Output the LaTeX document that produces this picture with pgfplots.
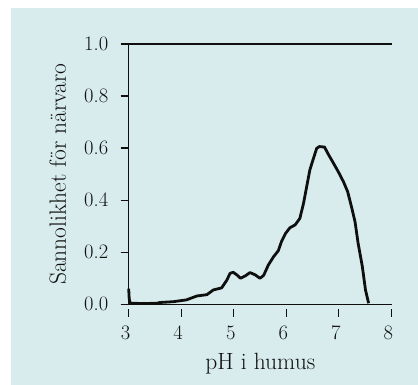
\documentclass[border=0pt]{standalone}
\usepackage{fontspec}
\usepackage{pgfplots}
\pgfplotsset{compat=1.18}
\definecolor{bg}{RGB}{216,236,237}
\definecolor{ink}{RGB}{15,15,15}
\begin{document}
\begin{tikzpicture}
\fill[white] (0pt,0pt) rectangle (418pt,385pt);
\fill[bg] (11pt,0pt) rectangle (418pt,377pt);
\useasboundingbox (0pt,0pt) rectangle (418pt,385pt);
\begin{axis}[
  at={(128.7pt,80.7pt)}, anchor=south west,
  scale only axis, width=263.3pt, height=260.3pt,
  xmin=3, xmax=8.015, ymin=0, ymax=1,
  axis x line*=bottom, axis y line*=left,
  axis line style={line width=1.3pt, color=ink, -},
  xtick={3,4,5,6,7,8}, ytick={0,0.2,0.4,0.6,0.8,1.0},
  /pgf/number format/assume math mode=true,
  tick align=outside, major tick length=8pt,
  tick style={line width=1.3pt, color=ink},
  xtick style={yshift=-4.5pt},
  yticklabel style={/pgf/number format/fixed, /pgf/number format/fixed zerofill, /pgf/number format/precision=1, xshift=-9pt, font=\fontsize{20.5}{22}\selectfont, text=ink},
  xticklabel style={xshift=-3pt, yshift=-10pt, font=\fontsize{20.5}{22}\selectfont, text=ink},
  label style={font=\fontsize{23.5}{26}\selectfont, color=ink},
  xlabel={pH i humus},
  ylabel={Sannolikhet för närvaro},
  xlabel style={at={(axis description cs:0.5,0)}, anchor=north, yshift=-45pt},
  ylabel style={at={(axis description cs:0,0.5)}, anchor=south, xshift=0pt, yshift=59pt},
  clip=false,
]
\draw[line width=1.3pt, color=ink] (rel axis cs:0,1) -- (rel axis cs:1,1);
\addplot[line width=2.8pt, color=ink, line join=round] coordinates {
(3.00,0.06) (3.01,0.02) (3.03,0.004) (3.3,0.003) (3.53,0.004) (3.6,0.007)
(3.85,0.010) (4.10,0.017) (4.30,0.032) (4.49,0.037) (4.61,0.055) (4.77,0.063)
(4.87,0.093) (4.93,0.119) (4.99,0.123) (5.06,0.113) (5.13,0.100) (5.22,0.109)
(5.31,0.122) (5.41,0.113) (5.50,0.100) (5.57,0.111) (5.66,0.151) (5.76,0.183)
(5.85,0.206) (5.91,0.241) (5.99,0.273) (6.07,0.294) (6.17,0.305) (6.26,0.330)
(6.33,0.388) (6.39,0.452) (6.45,0.516) (6.52,0.561) (6.58,0.599) (6.63,0.606)
(6.73,0.604) (6.80,0.577) (6.90,0.542) (6.99,0.510) (7.09,0.471) (7.17,0.433)
(7.25,0.369) (7.31,0.318) (7.37,0.234) (7.45,0.145) (7.51,0.055) (7.57,0.004)
};
\end{axis}
\end{tikzpicture}
\end{document}
